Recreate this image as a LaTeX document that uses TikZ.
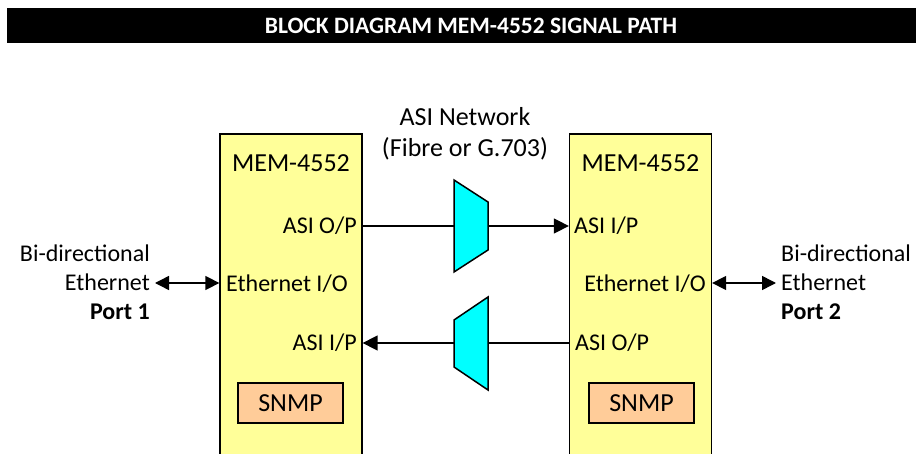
\documentclass[tikz,border=0pt]{standalone}
\usepackage{fontspec}
\setmainfont{Carlito}
\definecolor{memyellow}{RGB}{255,255,153}
\definecolor{muxcyan}{RGB}{0,255,255}
\definecolor{snmppeach}{RGB}{255,204,153}
\usetikzlibrary{arrows.meta,positioning}

\begin{document}
\begin{tikzpicture}[x=1pt,y=-1pt,
    titlebar/.style={fill=black,text=white,font=\bfseries\fontsize{23.5}{28}\selectfont,minimum width=928pt,minimum height=35pt,inner sep=0pt},
    mem/.style={draw,line width=1.3pt,fill=memyellow,minimum width=142pt,minimum height=336pt,inner sep=0pt},
    snmp/.style={draw,line width=1.2pt,fill=snmppeach,minimum width=105pt,minimum height=40pt,inner sep=0pt,font=\fontsize{26}{31}\selectfont},
    port/.style={inner sep=0pt,text height=15.5pt,text depth=0pt,font=\fontsize{24}{29}\selectfont},
    big/.style={inner sep=0pt,text height=16.7pt,text depth=0pt,font=\fontsize{26}{31}\selectfont},
    side/.style={port,inner xsep=5pt},
    mux/.style={draw,line width=1.5pt,fill=muxcyan,line join=miter},
    arr/.style={-{Triangle[length=15pt,width=15pt]},line width=1.5pt},
    biarr/.style={{Triangle[length=14pt,width=14pt]}-{Triangle[length=14pt,width=14pt]},line width=1.5pt}]
  \useasboundingbox (0,0) rectangle (916,454);
  \clip (0,0) rectangle (916,454);
  \node[titlebar] (title) at (471,25.5) {BLOCK DIAGRAM MEM-4552 SIGNAL PATH};

  % the two units
  \node[mem] (memA) at (291,302) {};
  \node[mem] (memB) at (640.5,302) {};
  \node[big] (nameA) at (291,163) {MEM-4552};
  \node[big] (nameB) at (640.5,163) {MEM-4552};
  \node[port,anchor=east] (asiOutA) at (357,226) {ASI O/P};
  \node[port,anchor=west] (ethA) at (226,284) {Ethernet I/O};
  \node[port,anchor=east] (asiInA) at (357,343) {ASI I/P};
  \node[port,anchor=west] (asiInB) at (574,226) {ASI I/P};
  \node[port,anchor=east] (ethB) at (706,284) {Ethernet I/O};
  \node[port,anchor=west] (asiOutB) at (575,343) {ASI O/P};
  \node[snmp] (snmpA) at (290.5,403) {SNMP};
  \node[snmp] (snmpB) at (641.5,403) {SNMP};

  % network
  \node[big] (asiNet) at (465,117) {ASI Network};
  \node[big,below=14pt of asiNet] (fibre) {(Fibre or G.703)};
  \draw[arr] (memA.east |- asiOutA) -- (memB.west |- asiInB);
  \draw[arr] (memB.west |- asiOutB) -- (memA.east |- asiInA);
  \draw[mux] (454,180) -- (488,202) -- (488,250) -- (454,272) -- cycle;
  \draw[mux] (454,320) -- (488,297) -- (488,390) -- (454,367) -- cycle;

  % ethernet ports
  \node[side,anchor=east] (ethL) at (155,283) {Ethernet};
  \node[side,above left=13pt and 0pt of ethL.north east] (biL) {Bi-directional};
  \node[side,below left=13pt and 0pt of ethL.south east,font=\bfseries\fontsize{24}{29}\selectfont] (portL) {Port 1};
  \node[side,anchor=west] (ethR) at (776,283) {Ethernet};
  \node[side,above right=13pt and 0pt of ethR.north west] (biR) {Bi-directional};
  \node[side,below right=13pt and 0pt of ethR.south west,font=\bfseries\fontsize{24}{29}\selectfont] (portR) {Port 2};
  \draw[biarr] (ethL.east) -- (ethL.east -| memA.west);
  \draw[biarr] (ethR.west) -- (ethR.west -| memB.east);
\end{tikzpicture}
\end{document}
